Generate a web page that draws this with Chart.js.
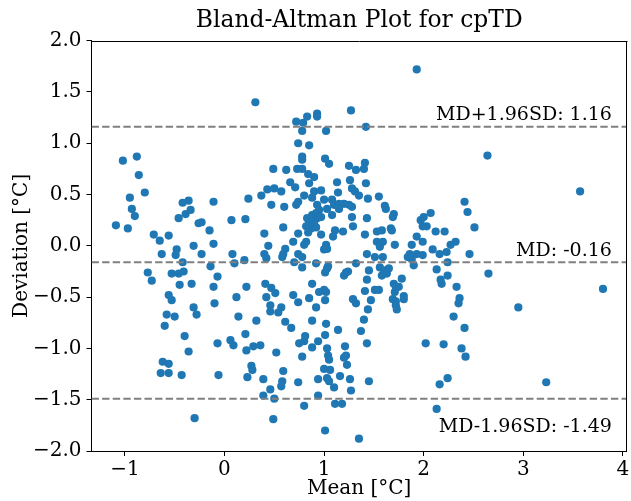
<!DOCTYPE html>
<html><head><meta charset="utf-8">
<script src="https://cdn.jsdelivr.net/npm/chart.js@4.4.1/dist/chart.umd.min.js"></script>
<style>html,body{margin:0;padding:0;background:#fff}canvas{display:block}</style>
</head><body>
<canvas id="c" width="631" height="501"></canvas>
<script>
// ---- data ----
const meanValues = [
 -1.02,-0.88,-0.86,-0.95,-0.93,-0.90,-1.09,-0.97,
 -0.80,-0.42,-0.36,-0.34,-0.39,-0.46,-0.26,-0.71,-0.65,-0.56,-0.31,-0.48,
 0.31,0.49,0.62,0.43,0.50,0.57,0.37,0.24,-0.11,0.47,0.60,0.07,0.21,-0.23,-0.15,0.59,0.40,-0.11,0.44,0.61,
 1.27,0.72,0.79,0.83,0.93,0.93,0.78,1.02,1.42,0.74,0.85,0.78,0.78,1.01,1.05,1.41,1.25,1.32,1.40,0.73,
 0.78,0.84,0.90,0.85,0.66,0.71,1.26,1.13,1.42,1.28,1.31,1.35,1.14,1.55,1.44,0.97,0.90,0.80,0.88,1.00,
 0.72,0.74,0.93,0.95,1.08,1.10,1.15,1.20,1.25,1.28,1.03,1.08,1.15,0.83,0.88,0.92,0.93,0.97,0.85,0.90,
 0.82,0.87,0.92,0.84,1.28,1.43,1.29,1.19,1.11,1.09,0.97,0.74,1.41,1.53,1.53,0.82,0.80,0.69,1.02,1.03,1.00,
 1.93,1.61,1.62,1.70,1.69,1.67,1.68,1.58,1.57,1.59,1.56,1.71,1.97,2.00,2.07,1.99,2.03,2.12,2.21,1.93,
 1.99,1.88,2.09,2.23,2.27,2.32,2.41,2.44,
 2.64,3.57,2.51,
 0.78,1.00,0.20,
 -0.77,-0.73,-0.63,-0.49,-0.42,-0.53,-0.46,-0.41,-0.45,-0.33,-0.56,-0.53,-0.58,-0.60,-0.50,-0.31,-0.28,-0.40,-0.36,-0.62,
 -0.56,-0.64,-0.56,-0.43,-0.30,-0.23,-0.14,-0.07,-0.11,-0.10,-0.07,-0.06,0.08,0.10,0.12,0.14,0.06,0.09,0.21,0.22,
 0.29,0.36,0.22,0.32,0.27,0.28,0.23,0.39,0.40,0.42,0.41,0.47,0.51,0.42,0.46,0.46,0.57,0.54,0.61,0.67,
 0.59,0.58,0.52,0.59,0.58,0.57,0.46,0.39,0.50,0.49,0.69,0.74,0.70,0.74,0.78,0.75,0.80,0.81,0.78,0.74,
 0.80,0.88,0.85,0.92,0.88,0.88,0.94,0.95,0.92,1.02,1.01,1.01,1.03,1.04,1.02,1.01,1.03,1.04,1.05,1.00,
 1.06,0.94,1.03,1.05,0.94,1.10,1.11,1.18,1.01,1.14,1.16,1.20,1.22,1.24,1.21,1.22,1.20,1.23,1.26,1.27,
 1.29,1.32,1.32,1.35,1.37,1.40,1.41,1.43,1.43,1.45,1.44,1.43,1.45,1.47,1.51,1.51,1.55,1.56,1.59,1.58,
 1.60,1.63,1.65,1.69,1.70,1.72,1.75,1.71,1.72,1.72,1.73,1.78,1.80,1.80,1.84,1.86,1.90,1.88,1.93,1.99,
 2.02,2.13,2.18,2.17,2.24,2.24,2.16,2.20,2.16,2.24,2.13,2.33,2.36,2.35,2.30,2.41,2.38,2.42,2.46,2.65,
 2.95,3.23,3.80
];
const diffValues = [
 0.83,0.87,0.69,0.47,0.36,0.29,0.20,0.17,
 0.52,0.42,0.44,0.35,0.31,0.27,0.22,0.11,0.05,0.10,0.00,-0.035,
 1.40,0.75,0.74,0.55,0.56,0.53,0.49,0.46,0.43,0.40,0.38,0.25,0.26,0.23,0.15,0.18,0.12,0.02,0.00,-0.03,
 1.32,1.21,1.20,1.26,1.29,1.26,1.12,1.12,1.16,1.00,0.98,0.87,0.84,0.85,0.80,0.81,0.78,0.74,0.75,0.75,
 0.75,0.70,0.67,0.61,0.62,0.57,0.64,0.62,0.61,0.56,0.53,0.49,0.52,0.48,0.46,0.54,0.53,0.49,0.47,0.45,
 0.40,0.43,0.40,0.35,0.45,0.40,0.41,0.41,0.40,0.38,0.36,0.30,0.36,0.27,0.30,0.32,0.27,0.28,0.22,0.23,
 0.19,0.17,0.18,0.13,0.28,0.27,0.19,0.14,0.15,0.09,0.11,0.12,0.11,0.14,0.04,0.04,0.01,0.04,0.01,-0.03,-0.035,
 1.72,0.39,0.36,0.31,0.28,0.17,0.15,0.15,0.03,0.04,-0.01,0.01,0.25,0.28,0.32,0.19,0.19,0.14,0.14,0.09,
 0.04,0.01,-0.035,-0.06,0.01,0.04,0.43,0.33,
 0.88,0.53,0.18,
 -0.21,-0.43,-0.14,
 -0.26,-0.34,-0.08,-0.09,-0.16,-0.27,-0.27,-0.25,-0.38,-0.37,-0.48,-0.53,-0.67,-0.78,-0.69,-0.60,-0.67,-0.88,-1.03,-1.13,
 -1.15,-1.24,-1.24,-1.26,-1.68,-0.08,-0.20,-0.30,-0.40,-0.56,-0.95,-1.26,-0.08,-0.17,-0.50,-0.69,-0.92,-0.97,-0.86,-1.02,
 -0.98,-0.97,-0.40,-0.73,-1.17,-1.21,-1.28,-1.30,-0.08,-0.12,-0.37,-0.41,-0.46,-0.50,-0.58,-0.64,-0.60,-0.65,-0.74,-0.80,
 -0.08,-0.11,-1.04,-1.22,-1.32,-1.37,-1.40,-1.46,-1.49,-1.69,-0.48,-0.55,-0.16,-0.08,-0.11,-0.95,-0.93,-0.88,-1.08,-1.33,
 -1.56,-0.37,-0.51,-0.60,-0.73,-0.99,-0.93,-0.45,-0.17,-0.45,-0.53,-0.26,-0.22,-0.20,-0.76,-0.87,-1.00,-1.07,-1.11,-1.20,
 -1.21,-1.30,-1.29,-1.32,-1.46,-1.38,-1.54,-1.54,-1.80,-0.82,-1.27,-0.29,-0.26,-0.25,-0.98,-1.07,-1.09,-1.16,-1.30,-1.41,
 -0.52,-0.56,-0.17,-1.88,-0.83,-0.72,-0.44,-0.08,-0.33,-0.24,-0.62,-0.95,-1.32,-0.53,-0.11,-0.43,-0.43,-0.21,-0.11,-0.29,
 -0.24,-0.27,-0.22,-0.52,-0.37,-0.40,-0.40,-0.45,-0.54,-0.58,-0.62,-0.32,-0.49,-0.52,-0.11,-0.08,-0.19,-0.13,-0.08,-0.09,
 -0.95,-0.23,-0.37,-0.33,-0.16,-0.29,-0.08,-0.96,-1.35,-1.29,-1.59,-0.40,-0.51,-0.56,-0.69,-0.80,-1.00,-1.08,-0.08,-0.27,
 -0.60,-1.33,-0.42
];
const limitValues = [1.16, -0.16, -1.49];
const limitLabels = ['MD+1.96SD: 1.16', 'MD: -0.16', 'MD-1.96SD: -1.49'];
const xTickValues = [-1, 0, 1, 2, 3, 4];
const yTickValues = [-2, -1.5, -1, -0.5, 0, 0.5, 1, 1.5, 2];
const xRange = [-1.335, 4.04];
const yRange = [-2, 2];

// ---- chart ----
const FONT = '"DejaVu Serif", "Liberation Serif", serif';
const fmt1 = v => (v < 0 ? '\u2212' : '') + Math.abs(v).toFixed(1);
const fmt0 = v => (v < 0 ? '\u2212' : '') + Math.abs(v).toFixed(0);

const points = meanValues.map((m, i) => ({x: m, y: diffValues[i]}));
const limitSets = limitValues.map(v => ({
  type: 'line',
  data: [{x: xRange[0], y: v}, {x: xRange[1], y: v}],
  borderColor: '#808080', borderWidth: 2, borderDash: [7.4, 3.2],
  pointRadius: 0, fill: false, order: 0
}));

const annot = {
  id: 'annot',
  afterDatasetsDraw(chart) {
    const {ctx, chartArea, scales} = chart;
    const y = scales.y;
    ctx.save();
    ctx.strokeStyle = '#000'; ctx.lineWidth = 1;
    ctx.beginPath();
    ctx.moveTo(Math.round(chartArea.left) - 0.5, Math.round(chartArea.top) + 0.5);
    ctx.lineTo(Math.round(chartArea.right) + 0.5, Math.round(chartArea.top) + 0.5);
    ctx.moveTo(Math.round(chartArea.right) - 0.5, Math.round(chartArea.top));
    ctx.lineTo(Math.round(chartArea.right) - 0.5, Math.round(chartArea.bottom));
    ctx.stroke();
    ctx.font = '19px ' + FONT;
    ctx.fillStyle = '#000';
    ctx.textAlign = 'right';
    ctx.textBaseline = 'alphabetic';
    limitValues.forEach((v, i) => {
      const py = y.getPixelForValue(v);
      const off = i < 2 ? -6.5 : 33;
      ctx.fillText(limitLabels[i], chartArea.right - 15, py + off);
    });
    ctx.restore();
  }
};

new Chart(document.getElementById('c'), {
  data: {
    datasets: [
      ...limitSets,
      {type: 'scatter', data: points, backgroundColor: '#1f77b4', borderWidth: 0,
       pointRadius: 4.1, pointHoverRadius: 4.1, order: 1}
    ]
  },
  options: {
    responsive: false, animation: false, devicePixelRatio: 1,
    layout: {padding: {top: 0, right: 1.5, bottom: 0, left: 0}},
    plugins: {
      legend: {display: false}, tooltip: {enabled: false},
      title: {display: true, text: 'Bland-Altman Plot for cpTD', color: '#000', fullSize: false,
              font: {family: FONT, size: 23.4, weight: 'normal'}, padding: {top: 7, bottom: 5.6}}
    },
    scales: {
      x: {
        type: 'linear', min: xRange[0], max: xRange[1],
        afterBuildTicks: s => { s.ticks = xTickValues.map(v => ({value: v})); },
        afterFit: s => { s.height = 50; s.paddingLeft = 0; s.paddingRight = 0; },
        ticks: {callback: v => fmt0(v), color: '#000', font: {family: FONT, size: 20}, padding: 2,
                maxRotation: 0, autoSkip: false},
        grid: {drawOnChartArea: false, drawTicks: true, tickLength: 5, color: '#000'},
        border: {display: true, color: '#000', width: 1},
        title: {display: true, text: 'Mean [°C]', color: '#000', font: {family: FONT, size: 20},
                padding: {top: 0, bottom: 0}}
      },
      y: {
        type: 'linear', min: yRange[0], max: yRange[1],
        afterBuildTicks: s => { s.ticks = yTickValues.map(v => ({value: v})); },
        afterFit: s => { s.width = 91.5; s.paddingTop = 0; s.paddingBottom = 0; },
        ticks: {callback: v => fmt1(v), color: '#000', font: {family: FONT, size: 20}, padding: 5,
                autoSkip: false},
        grid: {drawOnChartArea: false, drawTicks: true, tickLength: 5, color: '#000'},
        border: {display: true, color: '#000', width: 1},
        title: {display: true, text: 'Deviation [°C]', color: '#000', font: {family: FONT, size: 20},
                padding: {top: 10, bottom: 0}}
      }
    }
  },
  plugins: [annot]
});
</script>
</body></html>
